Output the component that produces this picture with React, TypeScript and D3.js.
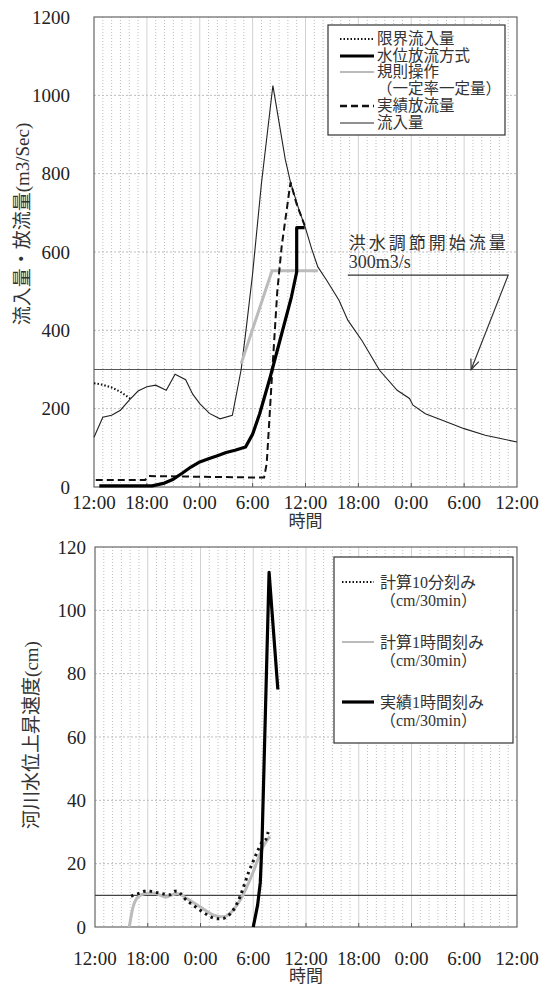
import React, { useEffect, useRef } from 'react';
import * as d3 from 'd3';

const WIDTH = 552;
const HEIGHT = 987;

// hours since 12:00 of day 1
const TIME_TICKS = [0, 6, 12, 18, 24, 30, 36, 42, 48];
const TIME_LABELS = ['12:00', '18:00', '0:00', '6:00', '12:00', '18:00', '0:00', '6:00', '12:00'];
const FLOW_TICKS = [0, 200, 400, 600, 800, 1000, 1200];
const RISE_TICKS = [0, 20, 40, 60, 80, 100, 120];

// top chart series: [hour, m3/s]
const INFLOW = [
  [0, 127], [1, 178], [2, 183], [3, 196], [4, 222], [5, 245], [6, 256], [7, 260], [8.2, 247],
  [9.2, 288], [10.4, 274], [11.2, 237], [12, 213], [13.1, 188], [14.3, 174], [15.7, 183],
  [16.7, 300], [17.3, 410], [18, 545], [19, 775], [20.3, 1025], [21.7, 837], [22.3, 778],
  [23.2, 712], [24, 661], [24.7, 608], [25.4, 562], [26.4, 528], [27.8, 477], [28.8, 426],
  [30.4, 374], [32.4, 298], [34.4, 247], [35.8, 226], [36.2, 209], [37.6, 187], [39.6, 170],
  [42, 149], [44.4, 132], [48, 115],
];
const LIMIT_INFLOW = [[0, 265], [1, 261], [2, 254], [3, 243], [4.1, 226]];
const WATER_LEVEL_RELEASE = [
  [0.6, 3], [6.6, 3], [8, 10], [9, 20], [10, 35], [11, 51], [12, 64], [13, 72], [14, 80],
  [15, 88], [16, 94], [17.2, 102], [18, 135], [18.8, 187], [20, 281], [21.2, 383],
  [22.4, 485], [23, 549], [23, 662], [23.9, 662],
];
const RULE_OPERATION = [[16.7, 315], [20.2, 552], [25.4, 552]];
const ACTUAL_RELEASE = [
  [0.2, 18], [5.8, 18], [6.2, 28], [19.3, 24], [19.6, 60], [20.2, 285], [20.8, 500],
  [21.3, 615], [22.3, 778], [23, 722], [23.9, 668],
];
const START_FLOW = 300;

// bottom chart series: [hour, cm/30min]
const CALC_10MIN = [
  [4.1, 9.7], [4.5, 10.2], [5, 10.6], [5.5, 11.2], [6, 11.4], [6.5, 11.2], [7, 10.9],
  [7.5, 10.6], [8, 10.3], [8.5, 10.2], [9, 11.2], [9.3, 11.4], [9.7, 10.6], [10.2, 9],
  [10.8, 7.6], [11.5, 6.2], [12, 5.2], [12.5, 4.3], [13, 3.4], [13.5, 2.8], [14, 2.6],
  [14.6, 2.7], [15, 3.3], [15.5, 4.5], [16, 6.6], [16.5, 9.6], [17, 13.5], [17.5, 17.5],
  [18, 20.8], [18.5, 24], [19, 26.8], [19.4, 27.5], [19.7, 30],
];
const CALC_1H = [
  [3.9, 0], [4.3, 6], [4.9, 9.5], [5.6, 10.5], [6.7, 10.7], [8.1, 9.5], [8.6, 10], [9.4, 10.5],
  [10.5, 8.9], [12, 6.3], [13.5, 3.7], [14.6, 3.2], [15.7, 5.3], [16.9, 10.5], [18, 17.4],
  [19.1, 25.3], [19.9, 28.6],
];
const ACTUAL_1H = [[18, 0], [18.5, 7], [18.8, 14], [19, 27], [19.8, 112], [20.8, 75]];
const RISE_LIMIT = 10;

const TOP = { left: 94, right: 517, top: 17, bottom: 487 };
const BOTTOM = { left: 95, right: 517, top: 547, bottom: 927 };

const NUM_FONT = "'Liberation Serif', 'Times New Roman', Times, serif";
const FONT = "'Liberation Serif', 'Times New Roman', 'Noto Sans CJK JP', serif";

const drawFrame = (svg, box, x, y, yTicks, labelX, xLabelY, titleY, yTitle, yTitleX) => {
  const g = svg.append('g');
  // minor vertical (hourly) dotted
  g.selectAll('line.minor')
    .data(d3.range(1, 48).filter((h) => h % 6 !== 0))
    .enter()
    .append('line')
    .attr('x1', (d) => x(d)).attr('x2', (d) => x(d))
    .attr('y1', box.top).attr('y2', box.bottom)
    .attr('stroke', '#bdbdbd').attr('stroke-width', 1).attr('stroke-dasharray', '1,2');
  // major vertical
  g.selectAll('line.major')
    .data(TIME_TICKS.slice(1, -1))
    .enter()
    .append('line')
    .attr('x1', (d) => x(d)).attr('x2', (d) => x(d))
    .attr('y1', box.top).attr('y2', box.bottom)
    .attr('stroke', '#d2d2d2').attr('stroke-width', 1);
  // horizontal dotted
  g.selectAll('line.h')
    .data(yTicks.slice(1, -1))
    .enter()
    .append('line')
    .attr('x1', box.left).attr('x2', box.right)
    .attr('y1', (d) => y(d)).attr('y2', (d) => y(d))
    .attr('stroke', '#bdbdbd').attr('stroke-width', 1).attr('stroke-dasharray', '2,2');
  // ticks
  g.selectAll('line.tick')
    .data(TIME_TICKS.slice(1, -1))
    .enter()
    .append('line')
    .attr('x1', (d) => x(d)).attr('x2', (d) => x(d))
    .attr('y1', box.bottom).attr('y2', box.bottom - 4)
    .attr('stroke', '#555');
  g.append('rect')
    .attr('x', box.left).attr('y', box.top)
    .attr('width', box.right - box.left).attr('height', box.bottom - box.top)
    .attr('fill', 'none').attr('stroke', '#666').attr('stroke-width', 1.2);

  g.selectAll('text.y')
    .data(yTicks)
    .enter()
    .append('text')
    .attr('x', labelX).attr('y', (d) => y(d)).attr('dy', '0.35em')
    .attr('text-anchor', 'end')
    .style('font-family', NUM_FONT).attr('font-size', 19).attr('fill', '#222')
    .text((d) => d);
  g.selectAll('text.x')
    .data(TIME_TICKS)
    .enter()
    .append('text')
    .attr('x', (d) => x(d)).attr('y', xLabelY).attr('dy', '0.35em')
    .attr('text-anchor', 'middle')
    .style('font-family', NUM_FONT).attr('font-size', 19).attr('fill', '#222')
    .text((d, i) => TIME_LABELS[i]);
  g.append('text')
    .attr('x', (box.left + box.right) / 2).attr('y', titleY).attr('dy', '0.35em')
    .attr('text-anchor', 'middle')
    .style('font-family', FONT).attr('font-size', 17).attr('fill', '#333')
    .text('時間');
  g.append('text')
    .attr('transform', `translate(${yTitleX}, ${yTitle.cy}) rotate(-90)`)
    .attr('dy', '0.35em')
    .attr('text-anchor', 'middle')
    .style('font-family', FONT).attr('font-size', 19).attr('fill', '#333')
    .text(yTitle.text);
};

const drawLegend = (svg, box, items) => {
  const g = svg.append('g');
  g.append('rect')
    .attr('x', box.x).attr('y', box.y).attr('width', box.w).attr('height', box.h)
    .attr('fill', '#fff').attr('stroke', '#333').attr('stroke-width', 1.2);
  items.forEach((it) => {
    if (it.style) {
      g.append('line')
        .attr('x1', box.sx1).attr('x2', box.sx2).attr('y1', it.y).attr('y2', it.y)
        .attr('stroke', it.style.stroke).attr('stroke-width', it.style.width)
        .attr('stroke-dasharray', it.style.dash || null);
    }
    g.append('text')
      .attr('x', box.tx).attr('y', it.y).attr('dy', '0.35em')
      .style('font-family', FONT).attr('font-size', box.fs).attr('fill', '#333')
      .text(it.label);
  });
};

export default function App() {
  const svgRef = useRef(null);

  useEffect(() => {
    const svg = d3.select(svgRef.current);
    svg.selectAll('*').remove();

    // ---- top chart ----
    const x1 = d3.scaleLinear().domain([0, 48]).range([TOP.left, TOP.right]);
    const y1 = d3.scaleLinear().domain([0, 1200]).range([TOP.bottom, TOP.top]);
    drawFrame(svg, TOP, x1, y1, FLOW_TICKS, 70, 502, 521,
      { text: '流入量・放流量(m3/Sec)', cy: 224 }, 22);

    const line1 = d3.line().x((d) => x1(d[0])).y((d) => y1(d[1]));
    const plot1 = svg.append('g');
    plot1.append('line')
      .attr('x1', TOP.left).attr('x2', TOP.right)
      .attr('y1', y1(START_FLOW)).attr('y2', y1(START_FLOW))
      .attr('stroke', '#555').attr('stroke-width', 1.2);
    plot1.append('path').datum(INFLOW).attr('d', line1)
      .attr('fill', 'none').attr('stroke', '#222').attr('stroke-width', 1.1);
    plot1.append('path').datum(LIMIT_INFLOW).attr('d', line1)
      .attr('fill', 'none').attr('stroke', '#111').attr('stroke-width', 2).attr('stroke-dasharray', '1.5,2');
    plot1.append('path').datum(RULE_OPERATION).attr('d', line1)
      .attr('fill', 'none').attr('stroke', '#bbb').attr('stroke-width', 3);
    plot1.append('path').datum(ACTUAL_RELEASE).attr('d', line1)
      .attr('fill', 'none').attr('stroke', '#111').attr('stroke-width', 2).attr('stroke-dasharray', '7,4');
    plot1.append('path').datum(WATER_LEVEL_RELEASE).attr('d', line1)
      .attr('fill', 'none').attr('stroke', '#000').attr('stroke-width', 3.2).attr('stroke-linejoin', 'round');

    // annotation
    const ann = svg.append('g');
    ann.append('text')
      .attr('x', x1(28.9)).attr('y', y1(623)).attr('dy', '0.35em')
      .style('font-family', FONT).attr('font-size', 17).attr('fill', '#333')
      .attr('letter-spacing', 3)
      .text('洪水調節開始流量');
    ann.append('text')
      .attr('x', x1(28.9)).attr('y', y1(574)).attr('dy', '0.35em')
      .style('font-family', NUM_FONT).attr('font-size', 18).attr('fill', '#333')
      .text('300m3/s');
    ann.append('path')
      .attr('d', d3.line()([[x1(28.8), y1(541)], [x1(47), y1(541)], [x1(42.8), y1(START_FLOW)]]))
      .attr('fill', 'none').attr('stroke', '#333').attr('stroke-width', 1.2);
    const tip = [x1(42.8), y1(START_FLOW)];
    const ang = Math.atan2(y1(START_FLOW) - y1(541), x1(42.8) - x1(47));
    const head = [-0.4, 0.4].map((o) => [
      tip[0] - 11 * Math.cos(ang + o), tip[1] - 11 * Math.sin(ang + o),
    ]);
    ann.append('path')
      .attr('d', d3.line()([head[0], tip, head[1]]))
      .attr('fill', 'none').attr('stroke', '#333').attr('stroke-width', 1.2);

    drawLegend(svg, { x: 328, y: 25, w: 177, h: 110, sx1: 340, sx2: 374, tx: 377, fs: 15.5 }, [
      { y: 39, label: '限界流入量', style: { stroke: '#111', width: 2, dash: '1.5,2' } },
      { y: 56, label: '水位放流方式', style: { stroke: '#000', width: 3.2 } },
      { y: 72, label: '規則操作', style: { stroke: '#bbb', width: 2 } },
      { y: 89, label: '（一定率一定量）' },
      { y: 106, label: '実績放流量', style: { stroke: '#111', width: 2.4, dash: '7,4' } },
      { y: 123, label: '流入量', style: { stroke: '#222', width: 1.1 } },
    ]);

    // ---- bottom chart ----
    const x2 = d3.scaleLinear().domain([0, 48]).range([BOTTOM.left, BOTTOM.right]);
    const y2 = d3.scaleLinear().domain([0, 120]).range([BOTTOM.bottom, BOTTOM.top]);
    drawFrame(svg, BOTTOM, x2, y2, RISE_TICKS, 86, 958, 976,
      { text: '河川水位上昇速度(cm)', cy: 735 }, 31);

    const line2 = d3.line().x((d) => x2(d[0])).y((d) => y2(d[1]));
    const smooth2 = d3.line().x((d) => x2(d[0])).y((d) => y2(d[1])).curve(d3.curveMonotoneX);
    const plot2 = svg.append('g');
    plot2.append('line')
      .attr('x1', BOTTOM.left).attr('x2', BOTTOM.right)
      .attr('y1', y2(RISE_LIMIT)).attr('y2', y2(RISE_LIMIT))
      .attr('stroke', '#444').attr('stroke-width', 1.2);
    plot2.append('path').datum(CALC_1H).attr('d', smooth2)
      .attr('fill', 'none').attr('stroke', '#bbb').attr('stroke-width', 3);
    plot2.append('path').datum(CALC_10MIN).attr('d', smooth2)
      .attr('fill', 'none').attr('stroke', '#111').attr('stroke-width', 3).attr('stroke-dasharray', '2.5,4');
    plot2.append('path').datum(ACTUAL_1H).attr('d', line2)
      .attr('fill', 'none').attr('stroke', '#000').attr('stroke-width', 3.2).attr('stroke-linejoin', 'round');

    drawLegend(svg, { x: 334, y: 557, w: 179, h: 186, sx1: 342, sx2: 374, tx: 380, fs: 16 }, [
      { y: 582, label: '計算10分刻み', style: { stroke: '#111', width: 2, dash: '1.5,2' } },
      { y: 600, label: '（cm/30min）' },
      { y: 642, label: '計算1時間刻み', style: { stroke: '#bbb', width: 2 } },
      { y: 660, label: '（cm/30min）' },
      { y: 702, label: '実績1時間刻み', style: { stroke: '#000', width: 3.2 } },
      { y: 720, label: '（cm/30min）' },
    ]);
  }, []);

  return (
    <svg
      ref={svgRef}
      width={WIDTH}
      height={HEIGHT}
      style={{ position: 'absolute', left: 0, top: 0, background: '#fff' }}
    />
  );
}
